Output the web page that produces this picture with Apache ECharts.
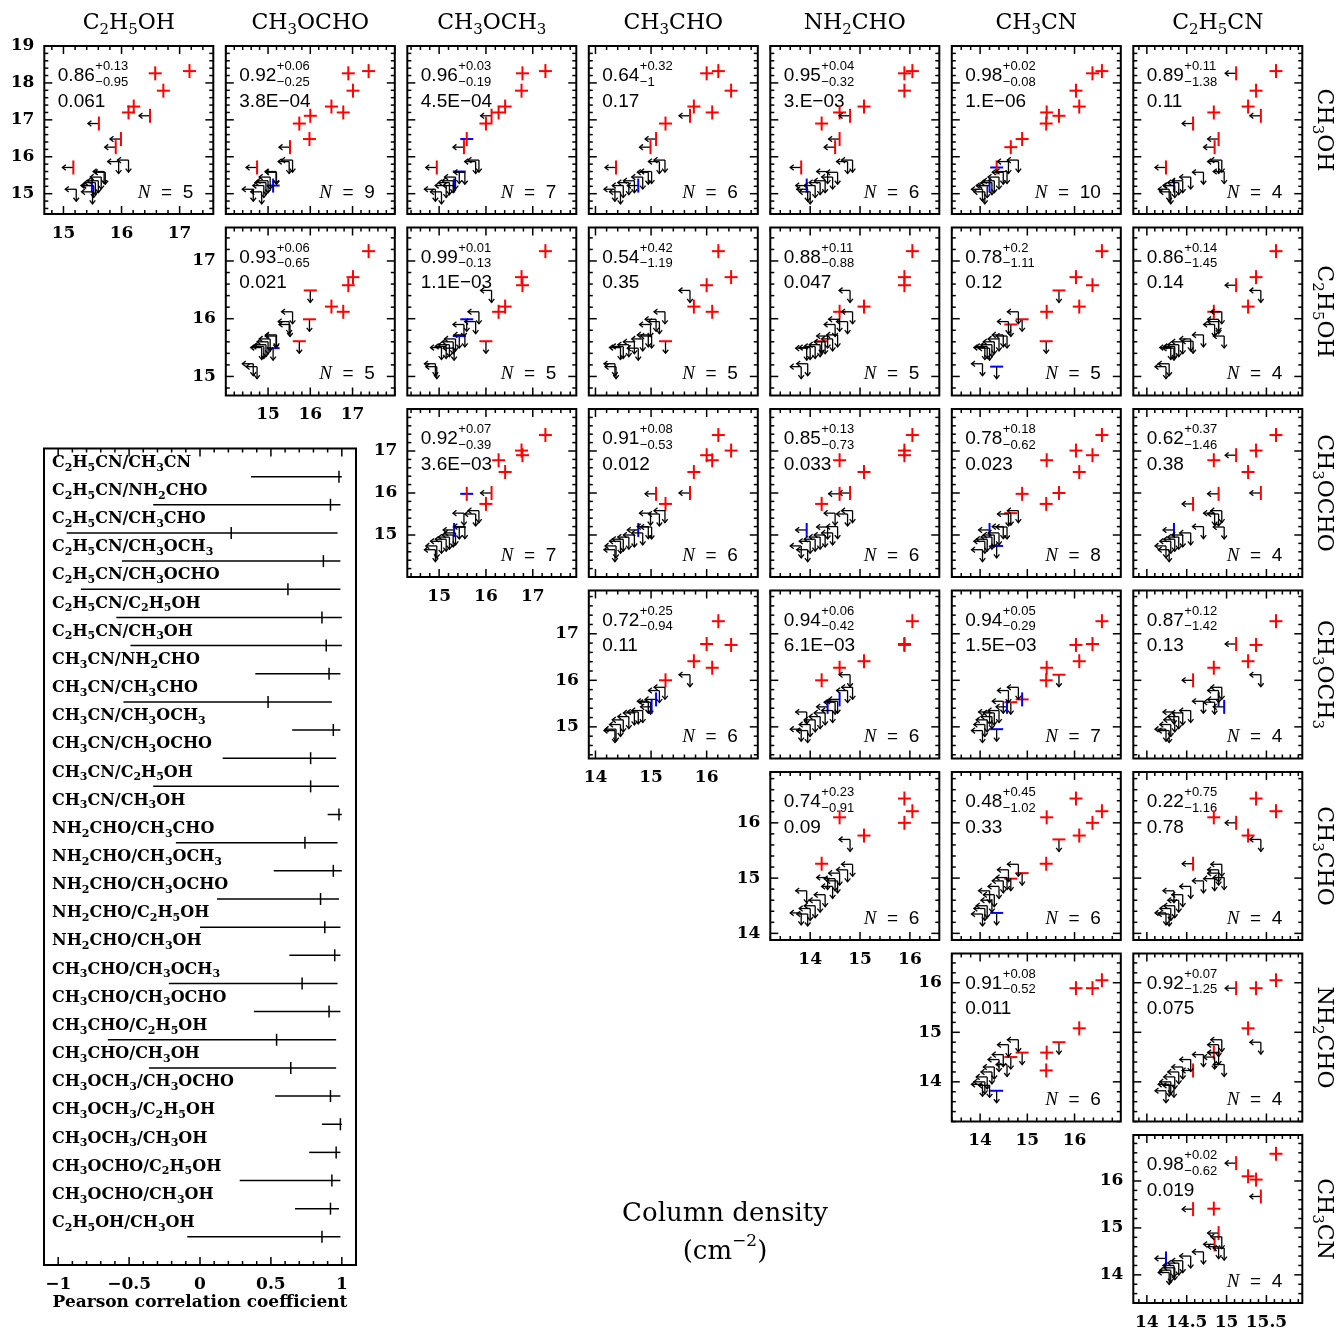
<!DOCTYPE html>
<html>
<head>
<meta charset="utf-8">
<script src="https://cdn.jsdelivr.net/npm/echarts@6/dist/echarts.min.js"></script>
<style>
html,body{margin:0;padding:0;background:#fff;}
#chart{width:1338px;height:1330px;}
</style>
</head>
<body>
<div id="chart"></div>
<script>
// ---------------- DATA ----------------
const molecules = ['CH3OH','C2H5OH','CH3OCHO','CH3OCH3','CH3CHO','NH2CHO','CH3CN','C2H5CN'];
// axis extent of log column density per molecule
const axisMin = [14.45, 14.67, 14.0, 14.32, 13.88, 13.2, 13.4, 13.83];
const axisMax = [19.0, 17.58, 18.0, 17.93, 16.92, 16.59, 16.98, 15.95];
const majorStep = [1, 1, 1, 1, 1, 1, 1, 0.5];
const minorStep = [0.2, 0.2, 0.2, 0.2, 0.2, 0.2, 0.2, 0.1];
const tickLabels = [[15,16,17,18,19],[15,16,17],[15,16,17],[15,16,17],[14,15,16],[14,15,16],[14,15,16],[14,14.5,15,15.5]];

// log column densities per source (21 sources) ; flags: D detection, T tentative, U upper limit
const nCH3OH   = [18.32,18.26,17.79,17.36,17.20,17.11,16.90,16.48,16.26,15.71,15.22,15.60,15.91,15.87,15.58,15.45,15.35,15.30,15.22,15.12,15.05];
const fCH3OH   = ['D','D','D','D','D','D','D','D','D','D','T','U','U','U','U','U','U','U','U','U','U'];
const nC2H5OH  = [17.17,16.58,16.72,16.21,16.12,16.49,15.61,15.99,15.90,15.17,15.49,15.70,16.12,15.95,15.72,15.65,15.60,15.55,15.52,15.22,15.50];
const fC2H5OH  = ['D','D','D','D','D','U','U','U','U','U','U','U','U','U','U','U','U','U','U','U','U'];
const nCH3OCHO = [17.38,16.90,17.01,16.50,16.78,16.00,15.74,15.98,15.52,14.74,15.12,15.19,15.58,15.50,15.20,15.05,15.00,14.95,14.90,14.65,14.85];
const fCH3OCHO = ['D','D','D','D','D','D','D','D','U','U','T','U','U','U','U','U','U','U','U','U','U'];
const nCH3OCH3 = [17.27,16.78,16.76,16.41,16.27,16.12,16.00,15.59,15.53,14.95,15.32,15.43,15.85,15.78,15.55,15.35,15.30,15.22,15.15,14.92,15.05];
const fCH3OCH3 = ['D','D','D','D','D','U','D','T','U','U','U','T','U','U','U','U','U','U','U','U','U'];
const nCH3CHO  = [16.21,16.00,16.44,15.77,16.10,15.70,15.26,15.09,14.99,14.37,14.77,15.01,15.25,15.15,14.95,14.85,14.70,14.60,14.50,14.35,14.45];
const fCH3CHO  = ['D','D','D','D','D','U','D','U','U','U','U','U','U','U','U','U','U','U','U','U','U'];
const nNH2CHO  = [16.05,15.89,15.89,15.08,14.59,14.80,14.23,14.59,14.50,13.82,13.93,14.35,14.85,14.75,14.55,14.45,14.30,14.20,14.10,13.95,14.00];
const fNH2CHO  = ['D','D','D','D','D','U','D','U','U','U','U','U','U','U','U','U','U','U','U','U','U'];
const nCH3CN   = [16.58,16.38,16.03,16.10,15.41,15.67,15.40,14.89,14.65,14.35,14.20,14.57,14.81,14.60,14.49,14.40,14.30,14.25,14.15,14.05,14.10];
const fCH3CN   = ['D','D','D','D','D','D','D','D','D','T','U','U','U','U','U','U','U','U','U','U','U'];
const nC2H5CN  = [15.62,15.12,15.37,15.27,14.84,15.43,14.58,14.90,14.85,14.24,14.34,14.97,14.94,14.90,14.71,14.55,14.45,14.40,14.35,14.28,14.30];
const fC2H5CN  = ['D','U','D','D','D','U','U','U','U','U','U','U','U','U','U','U','U','U','U','U','U'];

// per-panel statistics, row-major (row molecule CH3OH..CH3CN, column molecules right of the diagonal)
const corrR   = [0.86,0.92,0.96,0.64,0.95,0.98,0.89, 0.93,0.99,0.54,0.88,0.78,0.86, 0.92,0.91,0.85,0.78,0.62, 0.72,0.94,0.94,0.87, 0.74,0.48,0.22, 0.91,0.92, 0.98];
const corrUp  = [0.13,0.06,0.03,0.32,0.04,0.02,0.11, 0.06,0.01,0.42,0.11,0.2,0.14, 0.07,0.08,0.13,0.18,0.37, 0.25,0.06,0.05,0.12, 0.23,0.45,0.75, 0.08,0.07, 0.02];
const corrLow = [0.95,0.25,0.19,1,0.32,0.08,1.38, 0.65,0.13,1.19,0.88,1.11,1.45, 0.39,0.53,0.73,0.62,1.46, 0.94,0.42,0.29,1.42, 0.91,1.02,1.16, 0.52,1.25, 0.62];
const pValue  = ['0.061','3.8E−04','4.5E−04','0.17','3.E−03','1.E−06','0.11', '0.021','1.1E−03','0.35','0.047','0.12','0.14', '3.6E−03','0.012','0.033','0.023','0.38', '0.11','6.1E−03','1.5E−03','0.13', '0.09','0.33','0.78', '0.011','0.075', '0.019'];
const nDet    = [5,9,7,6,6,10,4, 5,5,5,5,5,4, 7,6,6,8,4, 6,6,7,4, 6,6,4, 6,4, 4];

const pearsonTicks = [-1, -0.5, 0, 0.5, 1];

// ---------------- LAYOUT ----------------
const colX = [44.3, 225.8, 407.3, 588.8, 770.3, 951.8, 1133.3];
const rowY = [46, 227.5, 409, 590.5, 772, 953.5, 1135];
const PW = 169, PH = 168;
const RED = '#ff0000', BLUE = '#0000ff';
const SANS = '"Liberation Sans", Arial, sans-serif';
const SERIF = '"DejaVu Serif", "Liberation Serif", serif';

const vals = [nCH3OH, nC2H5OH, nCH3OCHO, nCH3OCH3, nCH3CHO, nNH2CHO, nCH3CN, nC2H5CN];
const flags = [fCH3OH, fC2H5OH, fCH3OCHO, fCH3OCH3, fCH3CHO, fNH2CHO, fCH3CN, fC2H5CN];
const flagNum = f => (f === 'D' ? 1 : (f === 'T' ? 2 : 0));

const measureCtx = document.createElement('canvas').getContext('2d');
function textWidth(t, font) { measureCtx.font = font; return measureCtx.measureText(t).width; }
// builds text pieces with lowered digits (chemical subscripts)
function formulaPieces(name, mainFont, subFont, subDy, align) {
  const parts = [];
  const re = /(\d+)|([^\d]+)/g;
  let m;
  while ((m = re.exec(name))) parts.push({t: m[0], sub: !!m[1]});
  let w = 0;
  parts.forEach(p => { p.w = textWidth(p.t, p.sub ? subFont : mainFont); w += p.w; });
  let x = align === 'center' ? -w / 2 : (align === 'right' ? -w : 0);
  const children = [];
  parts.forEach(p => {
    children.push({type: 'text', x: x, y: p.sub ? subDy : 0, silent: true,
      style: {text: p.t, font: p.sub ? subFont : mainFont, fill: '#000', textAlign: 'left', textVerticalAlign: 'middle'}});
    x += p.w;
  });
  return children;
}

function tickList(min, max, step) {
  const out = [];
  const k0 = Math.ceil(min / step - 1e-6), k1 = Math.floor(max / step + 1e-6);
  for (let k = k0; k <= k1; k++) out.push(+(k * step).toFixed(6));
  return out;
}
function isMajor(v, step) { return Math.abs(v / step - Math.round(v / step)) < 1e-6; }
function ln(x1, y1, x2, y2, stroke, w) {
  return {type: 'line', silent: true, shape: {x1, y1, x2, y2}, style: {stroke, lineWidth: w, fill: null}};
}
function fmtNum(v) { return String(v).replace('-', '−'); }

const grids = [], xAxes = [], yAxes = [], series = [], gfx = [];
const TICKFONT = 'bold 17px ' + SERIF;

function decorSeries(gi, xa, ya) {
  return {
    type: 'custom', xAxisIndex: gi, yAxisIndex: gi, silent: true, z: 3,
    encode: {x: 0, y: 1},
    data: [[xa.min, ya.min]],
    renderItem: function (params, api) {
      const ch = [];
      const p0 = api.coord([xa.min, ya.min]), p1 = api.coord([xa.max, ya.max]);
      const L = Math.min(p0[0], p1[0]), R = Math.max(p0[0], p1[0]);
      const T = Math.min(p0[1], p1[1]), B = Math.max(p0[1], p1[1]);
      if (xa.ticks) {
        tickList(xa.min, xa.max, xa.minor).forEach(function (v) {
          const len = isMajor(v, xa.step) ? 8 : 4;
          const x = api.coord([v, ya.min])[0];
          ch.push(ln(x, B, x, B - len, '#000', 1.5));
          ch.push(ln(x, T, x, T + len, '#000', 1.5));
        });
      }
      if (ya.ticks) {
        tickList(ya.min, ya.max, ya.minor).forEach(function (v) {
          const len = isMajor(v, ya.step) ? 8 : 4;
          const y = api.coord([xa.min, v])[1];
          ch.push(ln(L, y, L + len, y, '#000', 1.5));
          ch.push(ln(R, y, R - len, y, '#000', 1.5));
        });
      }
      if (xa.labels) {
        xa.labels.forEach(function (v) {
          const x = api.coord([v, ya.min])[0];
          ch.push({type: 'text', silent: true, style: {text: fmtNum(v), x: x, y: B + 19.5, font: TICKFONT, fill: '#000', textAlign: 'center', textVerticalAlign: 'middle'}});
        });
      }
      if (ya.labels) {
        ya.labels.forEach(function (v) {
          const y = api.coord([xa.min, v])[1];
          ch.push({type: 'text', silent: true, style: {text: fmtNum(v), x: L - 10, y: y, font: TICKFONT, fill: '#000', textAlign: 'right', textVerticalAlign: 'middle'}});
        });
      }
      return {type: 'group', children: ch};
    }
  };
}

function markerSeries(gi, mx, my) {
  const data = [];
  for (let s = 0; s < vals[0].length; s++) {
    data.push([vals[mx][s], vals[my][s], flagNum(flags[mx][s]), flagNum(flags[my][s])]);
  }
  return {
    type: 'custom', xAxisIndex: gi, yAxisIndex: gi, silent: true, z: 4,
    encode: {x: 0, y: 1},
    data: data,
    renderItem: function (params, api) {
      const p = api.coord([api.value(0), api.value(1)]);
      const fx = api.value(2), fy = api.value(3);
      const x = p[0], y = p[1];
      const ch = [];
      if (fx === 0) {
        ch.push(ln(x, y, x - 11, y, '#000', 1.3));
        ch.push({type: 'polyline', silent: true, shape: {points: [[x - 7.5, y - 2.8], [x - 11, y], [x - 7.5, y + 2.8]]}, style: {stroke: '#000', lineWidth: 1.3, fill: null}});
      }
      if (fy === 0) {
        ch.push(ln(x, y, x, y + 12, '#000', 1.3));
        ch.push({type: 'polyline', silent: true, shape: {points: [[x - 2.8, y + 8.5], [x, y + 12], [x + 2.8, y + 8.5]]}, style: {stroke: '#000', lineWidth: 1.3, fill: null}});
      }
      if (fx > 0) ch.push(ln(x - 6.5, y, x + 6.5, y, fx === 1 ? RED : BLUE, 2));
      if (fy > 0) ch.push(ln(x, y - 7, x, y + 7, fy === 1 ? RED : BLUE, 2));
      return {type: 'group', children: ch};
    }
  };
}

function txt(x, y, text, font, align, vAlign, extra) {
  const el = {type: 'text', x: x, y: y, silent: true, style: {text: text, font: font, fill: '#000', textAlign: align, textVerticalAlign: vAlign}};
  return Object.assign(el, extra || {});
}

// ---------------- PANELS ----------------
let gi = 0, pi = 0;
const panelIndex = {};
for (let r = 0; r < 7; r++) {
  for (let c = r + 1; c <= 7; c++) {
    const left = colX[c - 1], top = rowY[r];
    grids.push({left: left, top: top, width: PW, height: PH, show: true, borderColor: '#000', borderWidth: 2, backgroundColor: 'transparent'});
    xAxes.push({gridIndex: gi, type: 'value', min: axisMin[c], max: axisMax[c], show: false});
    yAxes.push({gridIndex: gi, type: 'value', min: axisMin[r], max: axisMax[r], show: false});
    const diag = (c === r + 1);
    series.push(decorSeries(gi,
      {min: axisMin[c], max: axisMax[c], step: majorStep[c], minor: minorStep[c], ticks: true, labels: diag ? tickLabels[c] : null},
      {min: axisMin[r], max: axisMax[r], step: majorStep[r], minor: minorStep[r], ticks: true, labels: diag ? tickLabels[r] : null}));
    series.push(markerSeries(gi, c, r));
    // annotations
    gfx.push(txt(left + 13.5, top + 30, corrR[pi].toFixed(2), '19px ' + SANS, 'left', 'middle'));
    gfx.push(txt(left + 51, top + 20.5, '+' + corrUp[pi], '13px ' + SANS, 'left', 'middle'));
    gfx.push(txt(left + 51, top + 36, '−' + corrLow[pi], '13px ' + SANS, 'left', 'middle'));
    gfx.push(txt(left + 13.5, top + 55.5, pValue[pi], '19px ' + SANS, 'left', 'middle'));
    const nEl = txt(left + 149, top + 146.5, '{i|N}  =  ' + nDet[pi], '19px ' + SANS, 'right', 'middle');
    nEl.style.rich = {i: {font: 'italic 19px "Liberation Serif", "DejaVu Serif", serif', fill: '#000'}};
    gfx.push(nEl);
    panelIndex[r + '_' + c] = pi;
    gi++; pi++;
  }
}

// column headers and row labels (with subscripts)
const HMAIN = '22px ' + SERIF, HSUB = '15px ' + SERIF;
for (let c = 1; c <= 7; c++) {
  gfx.push({type: 'group', x: colX[c - 1] + PW / 2, y: 23, children: formulaPieces(molecules[c], HMAIN, HSUB, 7, 'center')});
}
for (let r = 0; r < 7; r++) {
  gfx.push({type: 'group', x: 1324, y: rowY[r] + PH / 2, rotation: -Math.PI / 2, children: formulaPieces(molecules[r], HMAIN, HSUB, 7, 'center')});
}

// axis title
gfx.push(txt(725, 1214, 'Column density', '26px ' + SERIF, 'center', 'middle'));
(function () {
  const f1 = '26px ' + SERIF, f2 = '17px ' + SERIF;
  const w1 = textWidth('(cm', f1), w2 = textWidth('−2', f2), w3 = textWidth(')', f1);
  let x = -(w1 + w2 + w3) / 2;
  gfx.push({type: 'group', x: 725, y: 1252, children: [
    {type: 'text', x: x, y: 0, silent: true, style: {text: '(cm', font: f1, fill: '#000', textAlign: 'left', textVerticalAlign: 'middle'}},
    {type: 'text', x: x + w1, y: -10, silent: true, style: {text: '−2', font: f2, fill: '#000', textAlign: 'left', textVerticalAlign: 'middle'}},
    {type: 'text', x: x + w1 + w2, y: 0, silent: true, style: {text: ')', font: f1, fill: '#000', textAlign: 'left', textVerticalAlign: 'middle'}}
  ]});
})();

// ---------------- PEARSON PANEL ----------------
const pearsonLabels = [], pearsonData = [];
let k = 0;
for (let c = 7; c >= 1; c--) {
  for (let r = c - 1; r >= 0; r--) {
    const idx = panelIndex[r + '_' + c];
    pearsonLabels.push(molecules[c] + '/' + molecules[r]);
    pearsonData.push([corrR[idx], corrR[idx] - corrLow[idx], Math.min(1, corrR[idx] + corrUp[idx]), k]);
    k++;
  }
}
const PMAIN = 'bold 16px ' + SERIF, PSUB = 'bold 11px ' + SERIF;
const pearsonPieces = pearsonLabels.map(l => formulaPieces(l, PMAIN, PSUB, 5, 'left'));
grids.push({left: 44, top: 448.5, width: 312, height: 816.5, show: true, borderColor: '#000', borderWidth: 2, backgroundColor: 'transparent'});
xAxes.push({gridIndex: gi, type: 'value', min: -1.1, max: 1.1, show: false});
yAxes.push({gridIndex: gi, type: 'value', min: -1, max: 28, inverse: true, show: false});
series.push(decorSeries(gi,
  {min: -1.1, max: 1.1, step: 0.5, minor: 0.1, ticks: true, labels: pearsonTicks},
  {min: -1, max: 28, step: 1, minor: 1, ticks: false, labels: null}));
series.push({
  type: 'custom', xAxisIndex: gi, yAxisIndex: gi, silent: true, z: 4,
  encode: {x: [0, 1, 2], y: 3},
  data: pearsonData,
  renderItem: function (params, api) {
    const r = api.value(0), lo = api.value(1), hi = api.value(2), kk = api.value(3);
    const a = api.coord([lo, kk]), b = api.coord([hi, kk]), m = api.coord([r, kk]);
    const l = api.coord([-1.1, kk]);
    return {type: 'group', children: [
      ln(a[0], a[1], b[0], b[1], '#000', 1.5),
      ln(m[0], m[1] - 6, m[0], m[1] + 6, '#000', 1.5),
      {type: 'group', x: l[0] + 8, y: l[1] - 14, children: pearsonPieces[params.dataIndex]}
    ]};
  }
});
gfx.push(txt(200, 1303, 'Pearson correlation coefficient', 'bold 17px ' + SERIF, 'center', 'middle'));

// ---------------- CHART ----------------
const chart = echarts.init(document.getElementById('chart'), null, {renderer: 'canvas'});
chart.setOption({
  animation: false,
  backgroundColor: '#fff',
  grid: grids,
  xAxis: xAxes,
  yAxis: yAxes,
  series: series,
  graphic: {elements: gfx}
});
</script>
</body>
</html>
